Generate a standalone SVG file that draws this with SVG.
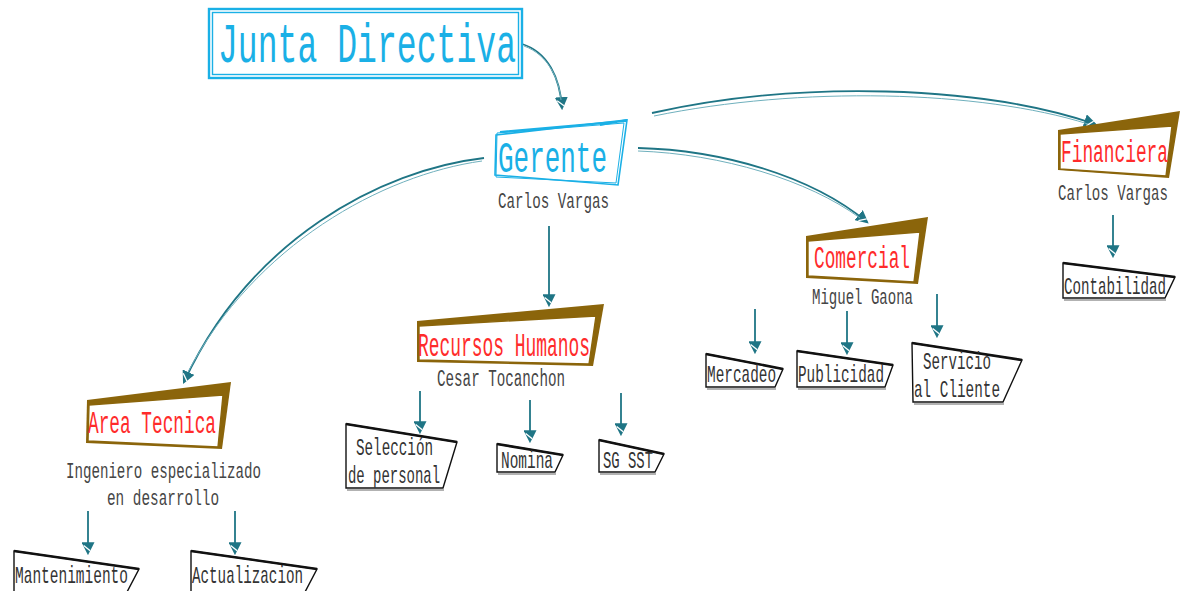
<svg xmlns="http://www.w3.org/2000/svg" width="1190" height="591" viewBox="0 0 1190 591">
<defs>
<style>
text{font-family:"Liberation Mono","DejaVu Sans Mono",monospace;}
.cy{fill:#1ab0e6;}
.red{fill:#ff2b2b;}
.gr{fill:#454545;}
.bk{fill:#333;}
.conn{fill:none;stroke:#1f7585;stroke-width:1.8;}
.conn2{fill:none;stroke:#6fb0bd;stroke-width:1;}
.brown{fill:#8b650b;}
.inner{fill:#fff;stroke:#8b650b;stroke-width:1.4;}
.edge{fill:none;stroke:#8b650b;stroke-width:1.2;}
.leaf{fill:#fff;stroke:#111;stroke-width:1.4;}
.leaftop{fill:none;stroke:#111;stroke-width:2.6;}
.shadow{fill:none;stroke:#999;stroke-width:1.5;}
</style>
<marker id="ah" viewBox="0 0 12 12" refX="10" refY="6" markerWidth="13" markerHeight="13" markerUnits="userSpaceOnUse" orient="auto">
<path d="M0,0 L12,6 L0,12 z" fill="#1f7585"/>
<path d="M3,10 L8,4" stroke="#fff" stroke-width="1.2"/>
</marker>
</defs>
<rect width="1190" height="591" fill="#fff"/>

<g id="connectors">
<path class="conn" d="M522,44 C548,52 560,78 562,108" marker-end="url(#ah)"/>
<path class="conn2" d="M524,46 C549,55 559,80 561,100"/>
<path class="conn" d="M484,158 C380,170 250,240 184,382" marker-end="url(#ah)"/>
<path class="conn2" d="M482,161 C382,175 255,245 188,372"/>
<path class="conn" d="M549,226 L549,305" marker-end="url(#ah)"/>
<path class="conn" d="M638,148 C720,150 810,175 867,222" marker-end="url(#ah)"/>
<path class="conn2" d="M638,151 C722,154 808,180 860,218"/>
<path class="conn" d="M652,113 C800,80 980,85 1095,124" marker-end="url(#ah)"/>
<path class="conn2" d="M654,116 C800,86 980,90 1088,124"/>
<path class="conn" d="M1113,215 L1113,256" marker-end="url(#ah)"/>
<path class="conn" d="M755,309 L755,352" marker-end="url(#ah)"/>
<path class="conn" d="M847,311 L847,353" marker-end="url(#ah)"/>
<path class="conn" d="M937,294 L937,336" marker-end="url(#ah)"/>
<path class="conn" d="M420,391 L420,432" marker-end="url(#ah)"/>
<path class="conn" d="M530,400 L530,441" marker-end="url(#ah)"/>
<path class="conn" d="M621,393 L621,434" marker-end="url(#ah)"/>
<path class="conn" d="M88,511 L88,553" marker-end="url(#ah)"/>
<path class="conn" d="M235,511 L235,553" marker-end="url(#ah)"/>
</g>

<g id="junta">
<rect x="209" y="9" width="313" height="69" fill="#fff" stroke="#1ab0e6" stroke-width="2.4"/>
<rect x="212.5" y="12.5" width="306" height="62" fill="none" stroke="#1ab0e6" stroke-width="1.4"/>
<text x="218" y="62" font-size="56" class="cy" textLength="298" lengthAdjust="spacingAndGlyphs">Junta Directiva</text>
</g>

<g id="gerente">
<polygon points="496,135 627,120 618,185 495,175" fill="#fff" stroke="#1ab0e6" stroke-width="1.6"/>
<polygon points="497,133 624,123 616,183 496,177" fill="none" stroke="#1ab0e6" stroke-width="1"/>
<path d="M500,132 L626,121 M600,125 L627,120" stroke="#1ab0e6" stroke-width="2.2" fill="none"/>
<text x="498" y="172" font-size="44" class="cy" textLength="109" lengthAdjust="spacingAndGlyphs">Gerente</text>
<text x="498" y="208" font-size="22" class="gr" textLength="111" lengthAdjust="spacingAndGlyphs">Carlos Vargas</text>
</g>

<g id="financiera">
<polygon class="brown" points="1058,130 1180,111 1169,178 1058,170"/>
<polygon class="inner" points="1060,134 1172,126 1166,176 1060,169"/>
<path class="edge" d="M1176,116 L1168,176"/>
<text x="1061" y="162" font-size="31" class="red" textLength="107" lengthAdjust="spacingAndGlyphs">Financiera</text>
<text x="1058" y="200" font-size="22" class="gr" textLength="110" lengthAdjust="spacingAndGlyphs">Carlos Vargas</text>
</g>

<g id="contabilidad">
<polygon class="leaf" points="1063,263 1175,277 1165,298 1063,298"/>
<path class="leaftop" d="M1063,263 L1175,277"/>
<path class="shadow" d="M1064,300 L1166,300"/>
<text x="1064" y="294" font-size="24" class="bk" textLength="102" lengthAdjust="spacingAndGlyphs">Contabilidad</text>
</g>

<g id="comercial">
<polygon class="brown" points="806,236 928,217 918,284 806,278"/>
<polygon class="inner" points="808,241 920,232 914,282 808,276"/>
<path class="edge" d="M924,222 L916,282"/>
<text x="814" y="268" font-size="31" class="red" textLength="96" lengthAdjust="spacingAndGlyphs">Comercial</text>
<text x="812" y="304" font-size="22" class="gr" textLength="101" lengthAdjust="spacingAndGlyphs">Miguel Gaona</text>
</g>

<g id="mercadeo">
<polygon class="leaf" points="706,354 783,369 775,387 706,387"/>
<path class="leaftop" d="M706,354 L783,369"/>
<path class="shadow" d="M707,389 L776,389"/>
<text x="707" y="382" font-size="24" class="bk" textLength="69" lengthAdjust="spacingAndGlyphs">Mercadeo</text>
</g>

<g id="publicidad">
<polygon class="leaf" points="797,351 893,365 885,387 797,387"/>
<path class="leaftop" d="M797,351 L893,365"/>
<path class="shadow" d="M798,389 L886,389"/>
<text x="798" y="382" font-size="24" class="bk" textLength="86" lengthAdjust="spacingAndGlyphs">Publicidad</text>
</g>

<g id="servicio">
<polygon class="leaf" points="912,343 1022,360 1003,402 913,402"/>
<path class="leaftop" d="M912,343 L1022,360"/>
<path class="shadow" d="M914,404 L1004,404"/>
<text x="923" y="369" font-size="24" class="bk" textLength="68" lengthAdjust="spacingAndGlyphs">Servicio</text>
<text x="914" y="397" font-size="24" class="bk" textLength="86" lengthAdjust="spacingAndGlyphs">al Cliente</text>
</g>

<g id="rrhh">
<polygon class="brown" points="417,321 604,304 593,366 417,362"/>
<polygon class="inner" points="419,326 596,316 589,364 419,360"/>
<path class="edge" d="M600,309 L591,364"/>
<text x="418" y="356" font-size="33" class="red" textLength="172" lengthAdjust="spacingAndGlyphs">Recursos Humanos</text>
<text x="437" y="386" font-size="23" class="gr" textLength="128" lengthAdjust="spacingAndGlyphs">Cesar Tocanchon</text>
</g>

<g id="seleccion">
<polygon class="leaf" points="346,424 457,442 443,488 346,488"/>
<path class="leaftop" d="M346,424 L457,442"/>
<path class="shadow" d="M347,490 L444,490"/>
<text x="356" y="455" font-size="24" class="bk" textLength="77" lengthAdjust="spacingAndGlyphs">Selección</text>
<text x="348" y="483" font-size="24" class="bk" textLength="92" lengthAdjust="spacingAndGlyphs">de personal</text>
</g>

<g id="nomina">
<polygon class="leaf" points="497,444 563,455 555,472 497,472"/>
<path class="leaftop" d="M497,444 L563,455"/>
<path class="shadow" d="M498,474 L556,474"/>
<text x="501" y="468" font-size="24" class="bk" textLength="52" lengthAdjust="spacingAndGlyphs">Nomina</text>
</g>

<g id="sgsst">
<polygon class="leaf" points="599,440 664,454 655,472 599,472"/>
<path class="leaftop" d="M599,440 L664,454"/>
<path class="shadow" d="M600,474 L656,474"/>
<text x="603" y="468" font-size="24" class="bk" textLength="50" lengthAdjust="spacingAndGlyphs">SG SST</text>
</g>

<g id="areatecnica">
<polygon class="brown" points="87,400 231,382 222,449 86,443"/>
<polygon class="inner" points="89,405 223,395 218,447 88,441"/>
<path class="edge" d="M228,387 L220,447"/>
<text x="88" y="433" font-size="31" class="red" textLength="128" lengthAdjust="spacingAndGlyphs">Area Tecnica</text>
<text x="66" y="478" font-size="22" class="gr" textLength="195" lengthAdjust="spacingAndGlyphs">Ingeniero especializado</text>
<text x="107" y="505" font-size="22" class="gr" textLength="112" lengthAdjust="spacingAndGlyphs">en desarrollo</text>
</g>

<g id="mantenimiento">
<polygon class="leaf" points="14,551 139,569 127,592 14,592"/>
<path class="leaftop" d="M14,551 L139,569"/>
<text x="15" y="583" font-size="24" class="bk" textLength="113" lengthAdjust="spacingAndGlyphs">Mantenimiento</text>
</g>

<g id="actualizacion">
<polygon class="leaf" points="191,551 317,569 305,592 191,592"/>
<path class="leaftop" d="M191,551 L317,569"/>
<text x="192" y="583" font-size="24" class="bk" textLength="111" lengthAdjust="spacingAndGlyphs">Actualizacion</text>
</g>
</svg>
